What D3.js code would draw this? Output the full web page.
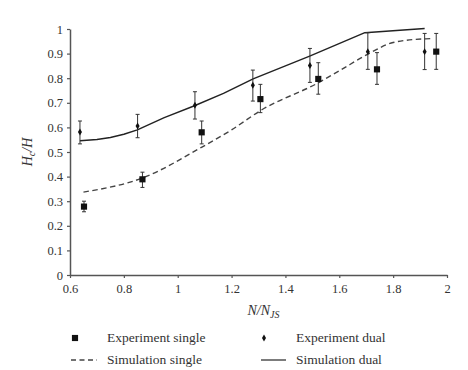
<!DOCTYPE html>
<html lang="en">
<head>
<meta charset="UTF-8">
<title>Hc/H vs N/NJS</title>
<script src="https://d3js.org/d3.v7.min.js"></script>
<style>
  html, body { margin: 0; background: #fff; }
  svg text { font-family: "Liberation Serif", "DejaVu Serif", serif; fill: #333; }
</style>
</head>
<body>
<div id="chart"></div>
<script>
// experiment, single impeller (squares)
var expSingleN  = [0.652, 0.869, 1.089, 1.307, 1.522, 1.740, 1.960];
var expSingleH  = [0.278, 0.389, 0.580, 0.715, 0.797, 0.836, 0.908];
var expSingleLo = [0.257, 0.356, 0.533, 0.660, 0.735, 0.775, 0.836];
var expSingleHi = [0.300, 0.418, 0.626, 0.775, 0.863, 0.904, 0.982];

// experiment, dual impeller (diamonds)
var expDualN  = [0.637, 0.851, 1.064, 1.279, 1.491, 1.706, 1.917];
var expDualH  = [0.581, 0.606, 0.690, 0.771, 0.852, 0.908, 0.908];
var expDualLo = [0.533, 0.558, 0.634, 0.707, 0.783, 0.836, 0.835];
var expDualHi = [0.626, 0.653, 0.745, 0.833, 0.921, 0.985, 0.982];

// simulation curves
var simSingleN = [0.65, 0.87, 1.09, 1.20, 1.31, 1.52, 1.60, 1.71, 1.80, 1.92, 1.95];
var simSingleH = [0.337, 0.395, 0.520, 0.590, 0.670, 0.780, 0.830, 0.900, 0.945, 0.960, 0.961];
var simDualN = [0.637, 0.70, 0.75, 0.80, 0.85, 0.95, 1.06, 1.17, 1.28, 1.49, 1.695, 1.917];
var simDualH = [0.546, 0.551, 0.559, 0.572, 0.590, 0.640, 0.687, 0.738, 0.797, 0.890, 0.985, 1.002];

var xTicks = [0.6, 0.8, 1, 1.2, 1.4, 1.6, 1.8, 2];
var yTicks = [0, 0.1, 0.2, 0.3, 0.4, 0.5, 0.6, 0.7, 0.8, 0.9, 1];

var width = 468, height = 370;
var margin = {top: 29, right: 21, bottom: 95, left: 70};
var w = width - margin.left - margin.right;
var h = height - margin.top - margin.bottom;

var svg = d3.select('#chart').append('svg')
    .attr('width', width)
    .attr('height', height);

var g = svg.append('g')
    .attr('transform', 'translate(' + margin.left + ',' + margin.top + ')');

var x = d3.scaleLinear().domain([0.6, 2]).range([0, w]);
var y = d3.scaleLinear().domain([0, 1]).range([h, 0]);

var fmt = function(d){ return d3.format('')(+d.toFixed(1)); };

var xAxis = g.append('g')
    .attr('transform', 'translate(0,' + h + ')')
    .call(d3.axisBottom(x).tickValues(xTicks).tickFormat(fmt).tickSize(3).tickSizeOuter(0));
var yAxis = g.append('g')
    .call(d3.axisLeft(y).tickValues(yTicks).tickFormat(fmt).tickSize(3).tickSizeOuter(0));

[xAxis, yAxis].forEach(function(a){
    a.select('.domain').attr('stroke', '#555').attr('stroke-width', 1.5);
    a.selectAll('.tick line').attr('stroke', '#555').attr('stroke-width', 1.2);
    a.selectAll('.tick text').attr('font-size', '12.5px').attr('font-family', '"Liberation Serif", serif').attr('fill', '#333');
});
xAxis.selectAll('.tick text').attr('dy', '0.95em');
yAxis.selectAll('.tick text').attr('x', -7);

// simulation lines
var smooth = d3.line().curve(d3.curveMonotoneX)
    .x(function(d){ return x(d[0]); })
    .y(function(d){ return y(d[1]); });
var straight = d3.line()
    .x(function(d){ return x(d[0]); })
    .y(function(d){ return y(d[1]); });

g.append('path')
    .datum(d3.zip(simSingleN, simSingleH))
    .attr('d', smooth)
    .attr('fill', 'none')
    .attr('stroke', '#444')
    .attr('stroke-width', 1.4)
    .attr('stroke-dasharray', '5.5,3.5');

g.append('path')
    .datum(d3.zip(simDualN, simDualH))
    .attr('d', straight)
    .attr('fill', 'none')
    .attr('stroke', '#222')
    .attr('stroke-width', 1.4)
    .attr('stroke-linejoin', 'round');

// error bars
function errorBars(N, lo, hi) {
    var eb = g.append('g').selectAll('g')
        .data(d3.zip(N, lo, hi))
        .enter().append('g')
        .attr('stroke', '#333')
        .attr('stroke-width', 1);
    eb.append('line')
        .attr('x1', function(d){ return x(d[0]); })
        .attr('x2', function(d){ return x(d[0]); })
        .attr('y1', function(d){ return y(d[1]); })
        .attr('y2', function(d){ return y(d[2]); });
    eb.append('line')
        .attr('x1', function(d){ return x(d[0]) - 2; })
        .attr('x2', function(d){ return x(d[0]) + 2; })
        .attr('y1', function(d){ return y(d[1]); })
        .attr('y2', function(d){ return y(d[1]); });
    eb.append('line')
        .attr('x1', function(d){ return x(d[0]) - 2; })
        .attr('x2', function(d){ return x(d[0]) + 2; })
        .attr('y1', function(d){ return y(d[2]); })
        .attr('y2', function(d){ return y(d[2]); });
}
errorBars(expSingleN, expSingleLo, expSingleHi);
errorBars(expDualN, expDualLo, expDualHi);

var square = d3.symbol().type(d3.symbolSquare).size(38);
var diamond = d3.symbol().type(d3.symbolDiamond).size(14);

g.append('g').selectAll('path')
    .data(d3.zip(expSingleN, expSingleH))
    .enter().append('path')
    .attr('d', square)
    .attr('transform', function(d){ return 'translate(' + x(d[0]) + ',' + y(d[1]) + ')'; })
    .attr('fill', '#111');

g.append('g').selectAll('path')
    .data(d3.zip(expDualN, expDualH))
    .enter().append('path')
    .attr('d', diamond)
    .attr('transform', function(d){ return 'translate(' + x(d[0]) + ',' + y(d[1]) + ')'; })
    .attr('fill', '#111');

// axis titles
var yl = svg.append('text')
    .attr('transform', 'translate(32,' + (margin.top + h / 2) + ') rotate(-90)')
    .attr('text-anchor', 'middle')
    .attr('font-size', '14px')
    .attr('font-style', 'italic');
yl.append('tspan').text('H');
yl.append('tspan').attr('font-size', '10px').attr('dy', 3).text('c');
yl.append('tspan').attr('dy', -3).text('/H');

var xl = svg.append('text')
    .attr('x', margin.left + w / 2 + 5)
    .attr('y', 315)
    .attr('text-anchor', 'middle')
    .attr('font-size', '14px')
    .attr('font-style', 'italic');
xl.append('tspan').text('N/N');
xl.append('tspan').attr('font-size', '10px').attr('dy', 3).text('JS');

// legend
var leg = svg.append('g');
leg.append('path').attr('d', square).attr('transform', 'translate(75,338)').attr('fill', '#111');
leg.append('path').attr('d', diamond).attr('transform', 'translate(264,338)').attr('fill', '#111');
leg.append('line').attr('x1', 71).attr('x2', 97).attr('y1', 360).attr('y2', 360)
    .attr('stroke', '#444').attr('stroke-width', 1.4).attr('stroke-dasharray', '5,3.5');
leg.append('line').attr('x1', 261).attr('x2', 286).attr('y1', 360).attr('y2', 360)
    .attr('stroke', '#444').attr('stroke-width', 1.4);
var legItems = [
    {t: 'Experiment single', x: 107, y: 342},
    {t: 'Experiment dual', x: 296, y: 342},
    {t: 'Simulation single', x: 107, y: 364},
    {t: 'Simulation dual', x: 296, y: 364}
];
leg.selectAll('text').data(legItems).enter().append('text')
    .attr('x', function(d){ return d.x; })
    .attr('y', function(d){ return d.y; })
    .attr('font-size', '13.5px')
    .text(function(d){ return d.t; });
</script>
</body>
</html>
